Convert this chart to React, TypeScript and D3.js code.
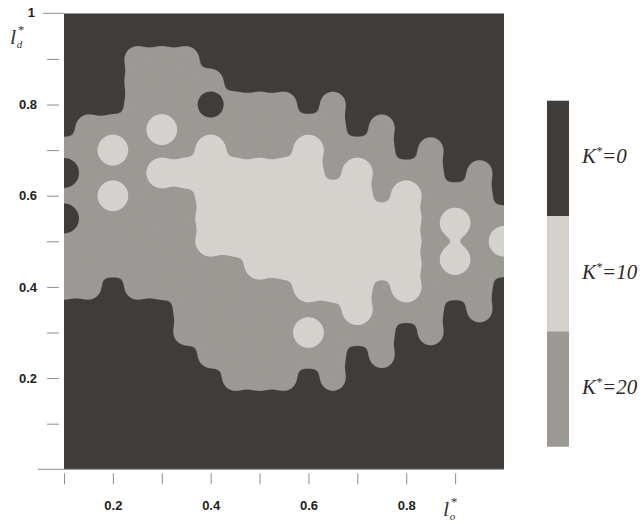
import { useEffect, useRef } from "react";
import * as d3 from "d3";

// sampled columns of l_o*
const colX = [0.1, 0.15, 0.2, 0.25, 0.3, 0.35, 0.4, 0.45, 0.5, 0.55, 0.6, 0.65, 0.7, 0.75, 0.8, 0.85, 0.9, 0.95, 1.0];
// K*=20 band: lowest / highest l_d* sample in each column
const bandLow = [0.4, 0.4, 0.45, 0.4, 0.4, 0.3, 0.25, 0.2, 0.2, 0.2, 0.25, 0.2, 0.3, 0.25, 0.35, 0.3, 0.4, 0.35, 0.45];
const bandHigh = [0.7, 0.75, 0.75, 0.9, 0.9, 0.9, 0.85, 0.8, 0.8, 0.8, 0.75, 0.8, 0.7, 0.75, 0.65, 0.7, 0.6, 0.65, 0.55];
// K*=0 samples left inside the band
const holeX = [0.1, 0.1, 0.4];
const holeY = [0.65, 0.55, 0.8];
// K*=10 core: columns with lowest / highest sample
const coreX = [0.3, 0.35, 0.4, 0.45, 0.5, 0.55, 0.6, 0.65, 0.7, 0.75, 0.8];
const coreLow = [0.65, 0.65, 0.5, 0.5, 0.45, 0.45, 0.4, 0.4, 0.35, 0.45, 0.4];
const coreHigh = [0.65, 0.65, 0.7, 0.65, 0.65, 0.65, 0.7, 0.6, 0.65, 0.55, 0.6];
// isolated K*=10 samples
const dotX = [0.2, 0.2, 0.3, 0.6, 0.9, 0.9, 1.0];
const dotY = [0.7, 0.6, 0.745, 0.3, 0.54, 0.46, 0.5];

const levels = ["0", "10", "20"];
const xTicks = [0.1, 0.2, 0.3, 0.4, 0.5, 0.6, 0.7, 0.8, 0.9];
const yTicks = [0.1, 0.2, 0.3, 0.4, 0.5, 0.6, 0.7, 0.8, 0.9];
const labelled = [0.2, 0.4, 0.6, 0.8];

const DARK = "#3f3c39";
const MID = "#9c9995";
const LIGHT = "#d5d2ce";

// expand a column range into its 0.05-spaced samples
function expand(xs: number[], lo: number[], hi: number[]) {
  const pts: [number, number][] = [];
  xs.forEach((x, i) => {
    const n = Math.round((hi[i] - lo[i]) / 0.05);
    for (let k = 0; k <= n; k++) pts.push([x, lo[i] + k * 0.05]);
  });
  return pts;
}

export default function App() {
  const ref = useRef<HTMLDivElement>(null);

  useEffect(() => {
    const el = ref.current;
    if (!el) return;
    el.innerHTML = "";

    const width = 643;
    const height = 524;
    const x = d3.scaleLinear().domain([0.1, 1.0]).range([64, 504]);
    const y = d3.scaleLinear().domain([0, 1]).range([469.3, 13.3]);

    const svg = d3
      .select(el)
      .append("svg")
      .attr("width", width)
      .attr("height", height)
      .style("position", "absolute")
      .style("left", 0)
      .style("top", 0)
      .style("background", "#fff");

    const defs = svg.append("defs");
    defs
      .append("clipPath")
      .attr("id", "plot-clip")
      .append("rect")
      .attr("x", x(0.1))
      .attr("y", y(1))
      .attr("width", x(1) - x(0.1))
      .attr("height", y(0) - y(1));

    // blur + alpha threshold: merges the sample discs into smooth blobs
    const goo = (id: string, blur: number) => {
      const f = defs
        .append("filter")
        .attr("id", id)
        .attr("filterUnits", "userSpaceOnUse")
        .attr("x", 0)
        .attr("y", 0)
        .attr("width", width)
        .attr("height", height)
        .attr("color-interpolation-filters", "sRGB");
      f.append("feGaussianBlur").attr("in", "SourceGraphic").attr("stdDeviation", blur).attr("result", "b");
      f.append("feColorMatrix")
        .attr("in", "b")
        .attr("mode", "matrix")
        .attr("values", "1 0 0 0 0  0 1 0 0 0  0 0 1 0 0  0 0 0 16 -7.2");
    };
    goo("goo-mid", 6.5);
    goo("goo-light", 5.5);

    const plot = svg.append("g").attr("clip-path", "url(#plot-clip)");
    plot
      .append("rect")
      .attr("x", x(0.1))
      .attr("y", y(1))
      .attr("width", x(1) - x(0.1))
      .attr("height", y(0) - y(1))
      .attr("fill", DARK);

    plot
      .append("g")
      .attr("filter", "url(#goo-mid)")
      .selectAll("circle")
      .data(expand(colX, bandLow, bandHigh))
      .join("circle")
      .attr("cx", (d) => x(d[0]))
      .attr("cy", (d) => y(d[1]))
      .attr("r", 14)
      .attr("fill", MID);

    plot
      .append("g")
      .selectAll("circle")
      .data(holeX.map((hx, i) => [hx, holeY[i]]))
      .join("circle")
      .attr("cx", (d) => x(d[0]))
      .attr("cy", (d) => y(d[1]))
      .attr("r", (d) => (d[0] === 0.1 ? 15 : 13))
      .attr("fill", DARK);

    const lightPts = expand(coreX, coreLow, coreHigh).concat(
      dotX.map((dx, i) => [dx, dotY[i]] as [number, number])
    );
    plot
      .append("g")
      .attr("filter", "url(#goo-light)")
      .selectAll("circle")
      .data(lightPts)
      .join("circle")
      .attr("cx", (d) => x(d[0]))
      .attr("cy", (d) => y(d[1]))
      .attr("r", 16)
      .attr("fill", LIGHT);

    // axes
    const axisColor = "#8c8c8c";
    const sans = "Liberation Sans, Arial, sans-serif";
    const fmt = (d: d3.NumberValue) => (labelled.includes(+d) ? d3.format(".1f")(+d) : "");

    svg
      .append("line")
      .attr("x1", 38)
      .attr("x2", x(1))
      .attr("y1", y(0))
      .attr("y2", y(0))
      .attr("stroke", axisColor);

    svg
      .append("g")
      .attr("transform", `translate(0,${y(0) + 4})`)
      .call(d3.axisBottom(x).tickValues(xTicks).tickSize(11).tickPadding(16).tickFormat(fmt))
      .call((g) => g.select(".domain").remove())
      .call((g) => g.selectAll("line").attr("stroke", axisColor))
      .selectAll("text")
      .attr("font-family", sans)
      .attr("font-size", 13)
      .attr("font-weight", 700)
      .attr("fill", "#222");

    svg
      .append("g")
      .attr("transform", `translate(59,0)`)
      .call(d3.axisLeft(y).tickValues(yTicks).tickSize(12).tickPadding(10).tickFormat(fmt))
      .call((g) => g.select(".domain").remove())
      .call((g) => g.selectAll("line").attr("stroke", axisColor))
      .selectAll("text")
      .attr("font-family", sans)
      .attr("font-size", 13)
      .attr("font-weight", 700)
      .attr("fill", "#222");

    svg
      .append("line")
      .attr("x1", 43)
      .attr("x2", x(0.1))
      .attr("y1", y(1))
      .attr("y2", y(1))
      .attr("stroke", axisColor);
    svg
      .append("text")
      .attr("x", 35)
      .attr("y", y(1))
      .attr("dy", "0.32em")
      .attr("text-anchor", "end")
      .attr("font-family", sans)
      .attr("font-size", 13)
      .attr("font-weight", 700)
      .attr("fill", "#222")
      .text("1");

    // axis titles l_d*, l_o* (one text each, star raised, index lowered under it)
    const serif = "Liberation Serif, Times New Roman, serif";
    const title = (lx: number, ly: number, sub: string) => {
      const t = svg
        .append("text")
        .attr("x", lx)
        .attr("y", ly)
        .attr("font-family", serif)
        .attr("font-style", "italic")
        .attr("fill", "#333")
        .attr("font-size", 22);
      t.append("tspan").text("l");
      t.append("tspan").attr("font-size", 13).attr("dy", -10).attr("dx", 1).text("*");
      t.append("tspan").attr("font-size", 11).attr("dy", 14).attr("dx", -7).text(sub);
    };
    title(10, 44, "d");
    title(443, 516, "o");

    // legend
    const band = d3.scaleBand().domain(levels).range([100.7, 446.7]);
    const levelColor: Record<string, string> = { "0": DARK, "10": LIGHT, "20": MID };
    svg
      .append("g")
      .selectAll("rect")
      .data(levels)
      .join("rect")
      .attr("x", 547)
      .attr("y", (d) => band(d)!)
      .attr("width", 22)
      .attr("height", band.bandwidth())
      .attr("fill", (d) => levelColor[d]);

    const lab = svg
      .append("g")
      .attr("font-family", serif)
      .attr("font-style", "italic")
      .attr("font-size", 21)
      .attr("fill", "#2a2a2a")
      .selectAll("text")
      .data(levels)
      .join("text")
      .attr("x", 582)
      .attr("y", (d) => band(d)! + band.bandwidth() / 2 + 5);
    lab.append("tspan").text("K");
    lab.append("tspan").attr("font-size", 12).attr("dy", -8).text("*");
    lab.append("tspan").attr("dy", 8).text((d) => "=" + d);
  }, []);

  return <div ref={ref} />;
}
